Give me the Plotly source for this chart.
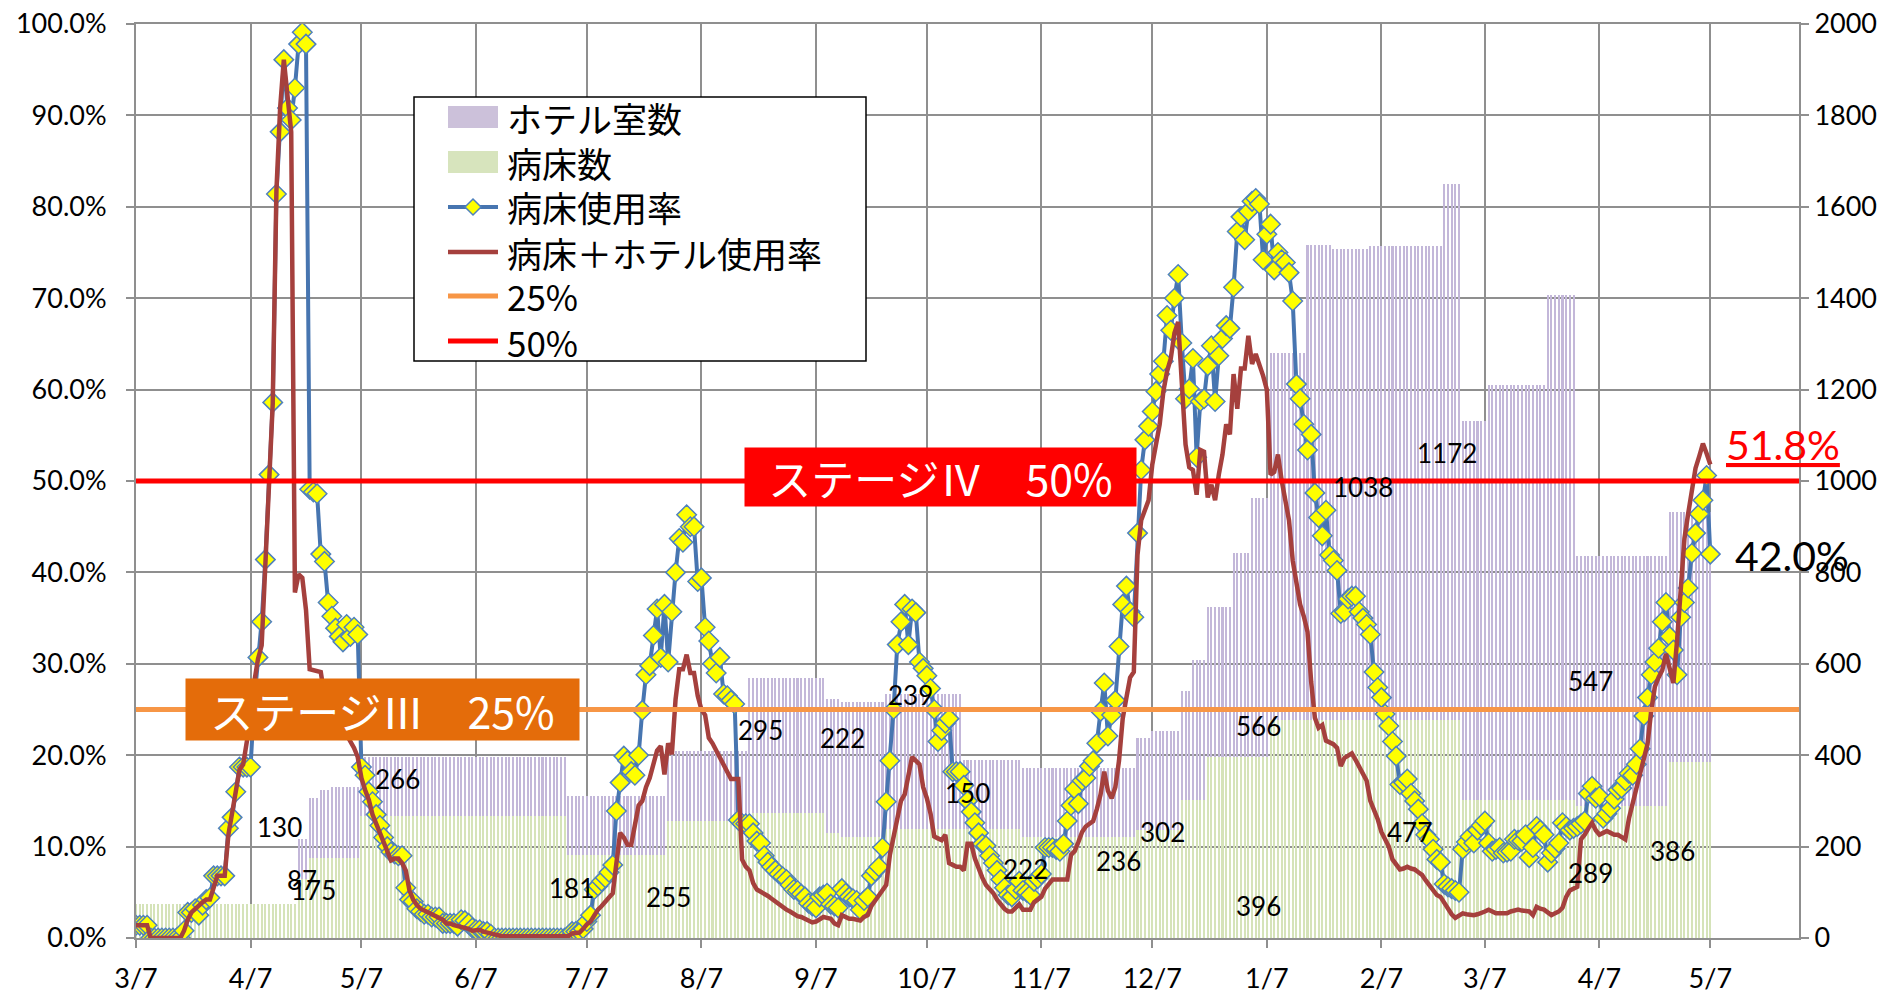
import pandas as pd
import plotly.graph_objects as go

START = "2020-03-07"
X_END = "2021-05-31"

# 病床使用率 (%), daily from 2020-03-07
bed_rate = [
    1.4, 1.4, 1.4, 1.4, 0, 0, 0, 0, 0, 0,
    0, 0, 0, 0.8, 2.8, 2.8, 3.2, 2.5, 3.6, 4.2,
    4.4, 6.8, 6.8, 6.8, 6.8, 12.0, 13.2, 16.0, 18.7, 18.7,
    18.7, 18.7, 26.0, 30.7, 34.6, 41.4, 50.7, 58.6, 81.4, 88.2,
    96.1, 90.8, 89.5, 93.0, 97.8, 99.1, 97.8, 49.1, 48.8, 48.6,
    42.0, 41.2, 36.7, 35.2, 33.9, 33.0, 32.4, 34.3, 33.0, 34.0,
    33.2, 18.7, 17.8, 16.0, 14.9, 13.5, 12.3, 11.0, 10.0, 9.4,
    9.2, 9.0, 9.0, 5.5, 4.2, 4.0, 3.2, 2.9, 2.6, 2.6,
    2.3, 2.3, 2.3, 1.6, 1.6, 1.6, 1.6, 1.3, 2.0, 1.9,
    1.6, 1.1, 0.9, 0.9, 0.7, 0.7, 0.4, 0, 0, 0,
    0, 0, 0, 0, 0, 0, 0, 0, 0, 0,
    0, 0, 0, 0, 0, 0, 0, 0, 0.7, 0.7,
    0.7, 1.0, 1.8, 2.5, 5.3, 5.7, 6.2, 6.6, 7.2, 8.0,
    13.9, 17.0, 19.9, 19.4, 18.2, 17.8, 20.0, 24.9, 28.8, 29.8,
    33.1, 36.0, 30.7, 36.5, 30.2, 35.7, 40.0, 43.7, 43.3, 46.3,
    45.0, 45.0, 39.0, 39.4, 34.0, 32.5, 30.0, 29.0, 30.7, 26.7,
    26.5, 26.0, 25.6, 12.9, 12.5, 12.5, 12.5, 11.5, 10.6, 10.4,
    9.0, 8.3, 7.8, 7.4, 7.0, 6.7, 6.4, 5.8, 5.3, 5.2,
    4.8, 4.5, 3.8, 3.5, 3.3, 4.5, 4.7, 4.9, 3.7, 3.5,
    3.3, 5.4, 4.9, 4.5, 4.3, 4.1, 3.1, 4.1, 4.5, 6.8,
    7.3, 7.8, 9.9, 14.9, 19.4, 25.0, 32.1, 34.6, 36.5, 32.1,
    36.0, 35.6, 30.2, 29.5, 28.7, 27.3, 25.0, 21.5, 22.7, 23.5,
    24.0, 18.2, 18.2, 18.2, 16.7, 15.0, 13.8, 12.6, 11.5, 10.3,
    10.1, 9.0, 8.2, 7.4, 6.4, 5.5, 4.7, 4.5, 5.3, 6.2,
    5.2, 5.0, 4.7, 6.2, 6.5, 7.0, 9.9, 9.9, 9.9, 9.7,
    9.5, 10.3, 12.8, 14.5, 16.3, 14.7, 17.2, 17.5, 18.8, 19.4,
    21.3, 24.8, 27.9, 22.1, 24.4, 26.0, 31.9, 36.5, 38.5, 35.7,
    35.1, 44.3, 51.2, 54.5, 56.0, 57.6, 59.8, 61.7, 63.1, 68.1,
    66.5, 70.0, 72.6, 65.1, 59.0, 60.1, 63.4, 52.6, 58.7, 59.0,
    62.6, 64.8, 58.7, 63.7, 65.6, 67.0, 66.7, 71.2, 77.3, 78.9,
    76.4, 79.5, 80.6, 80.9, 80.3, 74.2, 77.0, 78.1, 73.1, 75.0,
    74.2, 73.9, 72.8, 69.7, 60.6, 59.0, 56.2, 53.4, 55.1, 48.7,
    46.0, 44.0, 46.8, 41.9, 41.3, 40.2, 35.5, 35.7, 37.1, 37.4,
    37.4, 35.7, 35.0, 34.3, 33.2, 29.1, 27.4, 26.3, 24.5, 23.2,
    21.5, 19.9, 16.8, 17.0, 17.4, 15.8, 15.0, 14.1, 12.5, 11.3,
    10.8, 9.7, 8.6, 8.3, 5.9, 5.6, 5.4, 5.2, 5.0, 9.7,
    10.5, 11.1, 10.4, 11.8, 12.3, 12.8, 10.4, 9.5, 9.7, 9.9,
    9.3, 9.4, 9.5, 10.8, 10.7, 10.6, 11.3, 8.8, 9.9, 12.2,
    11.8, 11.3, 8.3, 9.3, 9.8, 10.4, 12.6, 12.2, 11.8, 12.0,
    12.2, 12.5, 12.8, 15.8, 16.6, 15.3, 15.5, 13.1, 13.6, 14.2,
    15.2, 16.2, 16.4, 17.2, 18.0, 17.8, 19.0, 20.7, 24.3, 26.3,
    28.8, 30.2, 31.7, 34.6, 36.7, 33.0, 31.5, 28.8, 35.1, 36.7,
    38.3, 42.1, 44.3, 46.4, 47.9, 50.6, 42.0,
]

# 病床＋ホテル使用率 (%), daily from 2020-03-07
total_rate = [
    1.4, 1.4, 1.4, 1.4, 0, 0, 0, 0, 0, 0,
    0, 0, 0, 0.8, 2.0, 2.8, 3.2, 3.6, 3.9, 4.2,
    4.2, 5.5, 6.8, 6.8, 6.8, 11.3, 13.9, 16.5, 18.4, 19.0,
    21.7, 24.0, 28.0, 30.5, 32.0, 41.0, 50.7, 58.5, 81.8, 90.8,
    96.1, 91.5, 88.2, 37.8, 39.8, 39.4, 35.9, 29.4, 29.3, 29.2,
    29.1, 26.5, 25.8, 25.0, 24.3, 23.6, 23.0, 22.3, 21.5, 20.8,
    19.8, 17.5, 16.2, 15.1, 13.5, 12.5, 11.8, 10.5, 9.5, 8.5,
    8.7, 8.7, 8.2, 7.4, 5.2, 4.2, 3.6, 3.2, 3.0, 2.8,
    2.6, 2.4, 2.2, 2.0, 1.6, 1.6, 1.4, 1.3, 1.3, 1.2,
    1.0, 0.8, 0.9, 0.9, 0.7, 0.6, 0.5, 0.4, 0.2, 0.2,
    0.2, 0.2, 0.2, 0.2, 0.2, 0.2, 0.2, 0.2, 0.2, 0.2,
    0.2, 0.2, 0.2, 0.2, 0.2, 0.2, 0.2, 0.2, 0.5, 0.5,
    0.6, 1.0, 1.5, 1.8, 2.5, 3.1, 3.5, 4.0, 4.5, 4.9,
    8.2, 11.5, 11.0, 10.2, 10.2, 12.5, 14.5, 15.0, 16.5, 17.5,
    19.2, 20.5, 21.0, 17.9, 21.3, 20.1, 26.1, 29.4, 29.4, 31.0,
    29.0, 29.0, 26.5, 25.0, 24.4, 21.9, 21.3, 20.5, 19.8, 19.0,
    18.2, 17.4, 17.4, 17.4, 8.6, 7.8, 7.4, 6.0, 5.3, 5.1,
    4.9, 4.6, 4.3, 4.0, 3.6, 3.3, 3.1, 2.9, 2.6, 2.4,
    2.3, 2.1, 1.9, 1.7, 1.8, 2.1, 2.3, 2.2, 2.1, 1.6,
    1.4, 2.5, 2.3, 2.1, 2.1, 2.0, 1.9, 2.3, 2.5, 3.5,
    4.1, 4.5, 5.2, 5.8, 9.1, 11.0, 12.8, 15.0, 15.7, 17.8,
    19.8, 19.4, 19.0, 16.5, 15.3, 13.6, 11.1, 10.9, 10.7, 11.3,
    8.2, 8.0, 7.8, 7.8, 7.4, 10.3, 10.3, 8.7, 7.5, 6.6,
    5.8, 5.4, 4.9, 4.2, 3.7, 3.2, 2.9, 2.9, 3.3, 3.7,
    3.1, 3.1, 3.1, 3.9, 4.2, 4.5, 5.4, 6.0, 6.4, 6.4,
    6.4, 6.4, 6.4, 9.1, 9.5, 10.5, 11.6, 12.2, 12.5, 12.8,
    14.1, 15.7, 18.2, 16.1, 15.3, 16.5, 19.4, 24.0, 26.3, 28.5,
    29.1, 41.9, 45.7, 46.8, 47.9, 51.8, 54.0, 56.2, 59.8, 62.0,
    63.4, 66.2, 67.4, 59.6, 54.0, 51.5, 51.2, 48.5, 53.4, 53.2,
    48.2, 49.6, 47.9, 50.7, 52.9, 56.2, 55.1, 61.7, 57.9, 62.3,
    62.3, 65.9, 62.8, 63.9, 62.8, 61.5, 60.0, 50.7, 51.0, 52.9,
    50.1, 48.0, 45.7, 41.3, 38.5, 36.5, 35.2, 33.5, 28.0, 24.1,
    23.0, 23.3, 21.6, 21.4, 21.2, 20.8, 18.8, 19.7, 20.0, 20.2,
    19.5, 18.8, 18.0, 17.2, 15.0, 14.0, 13.0, 11.6, 10.8, 10.0,
    8.6, 8.0, 7.5, 7.6, 7.8, 7.6, 7.5, 7.2, 6.9, 6.3,
    5.8, 5.2, 4.7, 4.5, 3.8, 3.1, 2.6, 2.2, 2.4, 2.7,
    2.6, 2.5, 2.5, 2.6, 2.7, 2.9, 3.1, 2.9, 2.7, 2.7,
    2.7, 2.7, 2.9, 3.0, 3.1, 3.0, 2.9, 2.9, 2.5, 3.4,
    3.2, 3.1, 2.8, 2.5, 2.7, 2.9, 3.3, 4.5, 5.2, 5.4,
    5.6, 10.8, 11.3, 12.0, 12.6, 11.8, 11.3, 11.5, 11.7, 11.5,
    11.3, 11.3, 11.0, 10.8, 13.1, 14.9, 16.3, 18.0, 19.6, 21.2,
    24.8, 27.5, 28.5, 29.3, 31.1, 29.5, 27.9, 32.5, 38.0, 43.7,
    46.4, 48.6, 51.4, 52.7, 54.1, 53.0, 51.8,
]

# capacity (step changes): beds and hotel rooms
step_dates = ["2020-03-07", "2020-04-20", "2020-04-23", "2020-04-26", "2020-04-29",
              "2020-05-07", "2020-07-02", "2020-07-29", "2020-08-20", "2020-09-10",
              "2020-09-14", "2020-09-26", "2020-10-17", "2020-11-02", "2020-12-03",
              "2020-12-07", "2020-12-15", "2020-12-18", "2020-12-22", "2020-12-29",
              "2021-01-03", "2021-01-08", "2021-01-18", "2021-01-25", "2021-02-04",
              "2021-02-24", "2021-03-01", "2021-03-08", "2021-03-24", "2021-04-01",
              "2021-04-26"]
bed_counts = [75, 130, 175, 175, 175, 266, 181, 255, 273, 229, 222, 239, 239, 222, 236,
              236, 302, 302, 396, 396, 396, 477, 477, 477, 477, 477, 302, 302, 302, 289, 386]
hotel_rooms = [0, 87, 131, 148, 155, 130, 129, 155, 295, 295, 295, 295, 150, 150, 201,
               217, 238, 307, 329, 446, 566, 803, 1040, 1031, 1037, 1172, 830, 909, 1105, 547, 547]

month_ticks = ["3/7", "4/7", "5/7", "6/7", "7/7", "8/7", "9/7", "10/7", "11/7", "12/7",
               "1/7", "2/7", "3/7", "4/7", "5/7"]

# data labels on capacity bars
label_text = ["130", "87", "175", "266", "181", "255", "295", "222", "239", "150", "222",
              "236", "302", "566", "396", "1038", "477", "1172", "547", "289", "386"]
label_day = [38.8, 44.8, 47.9, 70.8, 117.9, 144.0, 169.0, 191.2, 209.6, 225.0, 240.7,
             265.9, 277.8, 303.8, 303.8, 331.9, 344.6, 354.7, 393.6, 393.6, 415.7]
label_pos = [242, 126, 106, 347, 109, 89, 455, 437, 532, 317, 150, 168, 231, 463, 69,
             987, 231, 1061, 562, 142, 190]

legend_names = ["ホテル室数", "病床数", "病床使用率", "病床＋ホテル使用率", "25%", "50%"]

# ---------------------------------------------------------------
start = pd.Timestamp(START)
dates = pd.date_range(start, periods=len(bed_rate), freq="D")
dates_r = pd.date_range(start, periods=len(total_rate), freq="D")

steps = pd.DataFrame({"beds": bed_counts, "hotel": hotel_rooms},
                     index=pd.to_datetime(step_dates))
cap = steps.reindex(dates, method="ffill")
beds_daily = cap["beds"].values
total_cap = (cap["beds"] + cap["hotel"]).values

W, H = 1897, 993
ML, MR, MT, MB = 136, 98, 24, 55
PW, PH = W - ML - MR, H - MT - MB

GRID = "#8f8f8f"
TICKFONT = dict(family="Lato", size=27, color="black")
DAY_MS = 86400000
C_HOTEL, C_BED = "#C3B7D9", "#D5E3B9"
C_HOTEL_LEG, C_BED_LEG = "#CCC1DA", "#D7E4BD"
C_BLUE, C_BLUE_EDGE, C_RED = "#4775B0", "#4F81BD", "#A5403D"
C_25, C_50 = "#F79646", "#FF0000"

fig = go.Figure()
fig.add_trace(go.Bar(x=dates, y=total_cap, name=legend_names[0], yaxis="y",
                     width=0.55 * DAY_MS, marker=dict(color=C_HOTEL, line=dict(width=0)),
                     hoverinfo="skip", showlegend=False))
fig.add_trace(go.Bar(x=dates, y=beds_daily, name=legend_names[1], yaxis="y",
                     width=0.55 * DAY_MS, marker=dict(color=C_BED, line=dict(width=0)),
                     hoverinfo="skip", showlegend=False))
fig.add_trace(go.Scatter(x=dates, y=bed_rate, name=legend_names[2], yaxis="y2",
                         mode="lines+markers", showlegend=False,
                         line=dict(color=C_BLUE, width=4),
                         marker=dict(symbol="diamond", size=15, color="#FFFF00",
                                     line=dict(color=C_BLUE_EDGE, width=1.5))))
fig.add_trace(go.Scatter(x=dates_r, y=total_rate, name=legend_names[3], yaxis="y2",
                         mode="lines", showlegend=False,
                         line=dict(color=C_RED, width=4.5)))
fig.add_trace(go.Scatter(x=[START, X_END], y=[25, 25], name=legend_names[4], yaxis="y2",
                         mode="lines", showlegend=False, line=dict(color=C_25, width=5)))
fig.add_trace(go.Scatter(x=[START, X_END], y=[50, 50], name=legend_names[5], yaxis="y2",
                         mode="lines", showlegend=False, line=dict(color=C_50, width=5)))

tick_dates = pd.date_range(start, periods=len(month_ticks), freq=pd.DateOffset(months=1))


def day_x(d):
    return (start + pd.Timedelta(days=d)).isoformat()


def px(xp):
    return (xp - ML) / PW


def py(yp):
    return (MT + PH - yp) / PH


annotations = []
for t, d, v in zip(label_text, label_day, label_pos):
    annotations.append(dict(x=day_x(d), y=v, xref="x", yref="y", text=t, showarrow=False,
                            font=dict(family="Lato", size=26, color="black")))

annotations += [
    dict(x=day_x(217.6), y=50.4, xref="x", yref="y2", text="ステージⅣ　50%",
         showarrow=False, bgcolor="#FF0000", width=391, height=58, borderpad=0,
         font=dict(family="Noto Sans CJK JP", size=43, color="white")),
    dict(x=day_x(66.6), y=25.0, xref="x", yref="y2", text="ステージⅢ　25%",
         showarrow=False, bgcolor="#E46C0A", width=393, height=61, borderpad=0,
         font=dict(family="Noto Sans CJK JP", size=43, color="white")),
    dict(x=day_x(445.6), y=54.0, xref="x", yref="y2", text="<u>51.8%</u>",
         showarrow=False, font=dict(family="Lato", size=41, color="#FF0000")),
    dict(x=day_x(448.0), y=41.8, xref="x", yref="y2", text="42.0%",
         showarrow=False, font=dict(family="Lato", size=41, color="black")),
]

# legend box drawn by hand (pixel geometry of the reference)
LEG_L, LEG_R, LEG_T, LEG_B = 414, 866, 97, 361
SYM_L, SYM_R, TXT_L = 448, 498, 505
item_y = [117, 162, 207, 252, 296, 341]

shapes = [dict(type="rect", xref="paper", yref="paper", layer="above",
               x0=px(LEG_L), x1=px(LEG_R), y0=py(LEG_B), y1=py(LEG_T),
               line=dict(color="black", width=1.5), fillcolor="white")]
for i, col in enumerate([C_HOTEL_LEG, C_BED_LEG]):
    shapes.append(dict(type="rect", xref="paper", yref="paper", layer="above",
                       x0=px(SYM_L), x1=px(SYM_R), y0=py(item_y[i] + 11), y1=py(item_y[i] - 11),
                       line=dict(width=0), fillcolor=col))
for i, (col, wd) in zip([2, 3, 4, 5], [(C_BLUE, 4), (C_RED, 4.5), (C_25, 5), (C_50, 5)]):
    shapes.append(dict(type="line", xref="paper", yref="paper", layer="above",
                       x0=px(SYM_L), x1=px(SYM_R), y0=py(item_y[i]), y1=py(item_y[i]),
                       line=dict(color=col, width=wd)))
shapes.append(dict(type="path", xref="paper", yref="paper", layer="above",
                   xsizemode="pixel", ysizemode="pixel",
                   xanchor=px((SYM_L + SYM_R) / 2), yanchor=py(item_y[2]),
                   path="M0,8 L8,0 L0,-8 L-8,0 Z",
                   fillcolor="#FFFF00", line=dict(color=C_BLUE_EDGE, width=1.5)))
for name, yy in zip(legend_names, item_y):
    annotations.append(dict(x=px(TXT_L), y=py(yy), xref="paper", yref="paper",
                            xanchor="left", yanchor="middle", text=name, showarrow=False,
                            font=dict(family="Noto Sans CJK JP", size=35, color="black")))

fig.update_layout(
    width=W, height=H,
    margin=dict(l=ML, r=MR, t=MT, b=MB, autoexpand=False),
    plot_bgcolor="white", paper_bgcolor="white",
    barmode="overlay", bargap=0,
    showlegend=False,
    xaxis=dict(type="date", range=[START, X_END], automargin=False,
               tickvals=list(tick_dates), ticktext=month_ticks,
               showgrid=True, gridcolor=GRID, gridwidth=2,
               ticks="outside", ticklen=8, tickcolor=GRID, tickwidth=2,
               showline=True, linecolor=GRID, linewidth=2, mirror=True,
               tickfont=TICKFONT, ticklabelstandoff=8),
    yaxis=dict(range=[0, 2000], dtick=200, side="right", automargin=False,
               showgrid=True, gridcolor=GRID, gridwidth=2,
               ticks="outside", ticklen=8, tickcolor=GRID, tickwidth=2,
               showline=True, linecolor=GRID, linewidth=2, zeroline=False,
               tickfont=TICKFONT),
    yaxis2=dict(range=[0, 100], dtick=10, overlaying="y", side="left", automargin=False,
                tickformat=".1f", ticksuffix="%", showgrid=False,
                ticks="outside", ticklen=8, tickcolor=GRID, tickwidth=2,
                showline=True, linecolor=GRID, linewidth=2, zeroline=False,
                tickfont=TICKFONT, ticklabelstandoff=14),
    annotations=annotations,
    shapes=shapes,
)

fig.write_html(
    "out.html",
    config={"displayModeBar": False},
    post_script=("document.documentElement.style.margin='0';"
                 "document.body.style.margin='0';"
                 "document.body.style.overflow='hidden';"),
)
